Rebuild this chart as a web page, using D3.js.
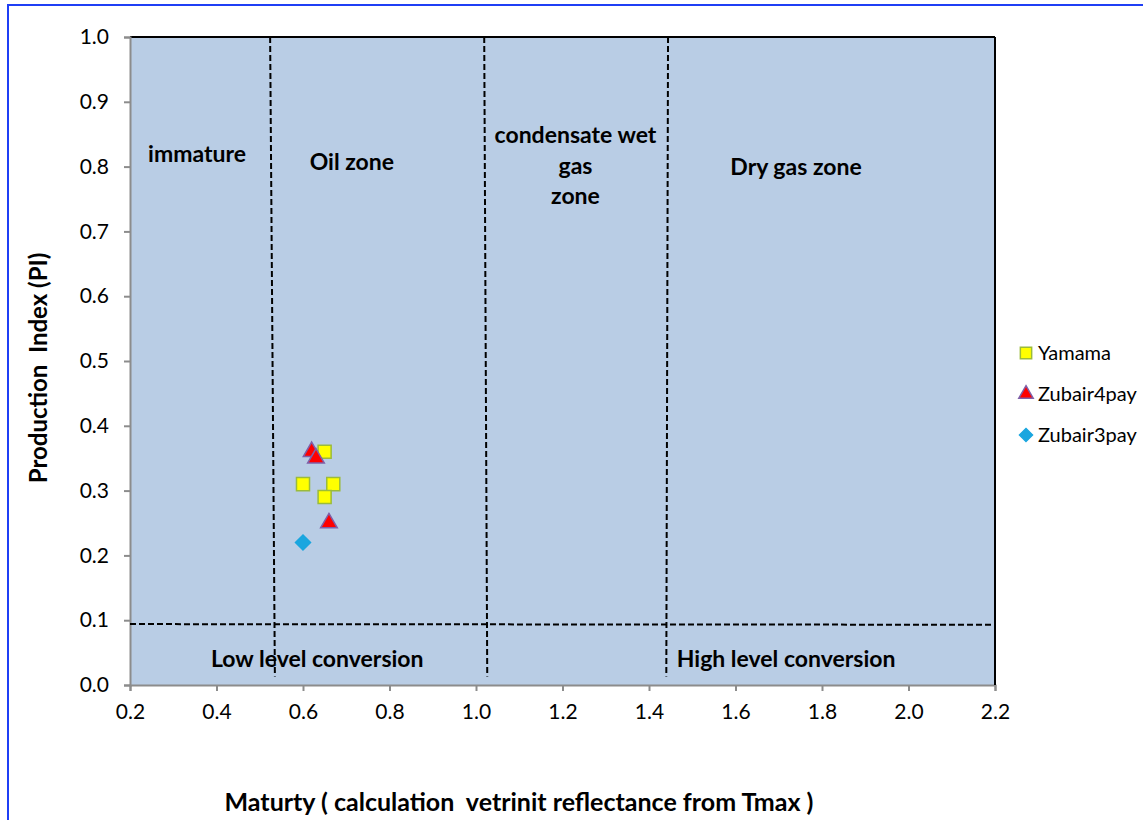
<!DOCTYPE html>
<html>
<head>
<meta charset="utf-8">
<script src="https://cdn.jsdelivr.net/npm/d3@7"></script>
<style>
  body { margin: 0; background: #fff; }
  svg text { font-family: Lato, "Open Sans", sans-serif; fill: #000; white-space: pre; }
</style>
</head>
<body>
<svg id="chart" width="1143" height="820"></svg>
<script>
// data
const yamamaX = [0.65, 0.60, 0.67, 0.65]
const yamamaY = [0.36, 0.31, 0.31, 0.29]
const zubair4X = [0.62, 0.63, 0.66]
const zubair4Y = [0.36, 0.35, 0.25]
const zubair3X = [0.60]
const zubair3Y = [0.22]

const xTicks = [0.2, 0.4, 0.6, 0.8, 1.0, 1.2, 1.4, 1.6, 1.8, 2.0, 2.2]
const yTicks = [0.0, 0.1, 0.2, 0.3, 0.4, 0.5, 0.6, 0.7, 0.8, 0.9, 1.0]

// zone boundaries (slightly slanted, as drawn in the original)
const vLines = [
    {x1: 0.524, y1: 1.0, x2: 0.535, y2: 0.013},
    {x1: 1.019, y1: 1.0, x2: 1.026, y2: 0.013},
    {x1: 1.444, y1: 1.0, x2: 1.440, y2: 0.013}
]
const hLine = {x1: 0.2, y1: 0.094, x2: 2.2, y2: 0.093}

const zoneLabels = [
    {x: 0.355, y: 0.807, lines: ["immature"]},
    {x: 0.713, y: 0.795, lines: ["Oil zone"]},
    {x: 1.23, y: 0.836, lines: ["condensate wet", "gas", "zone"]},
    {x: 1.74, y: 0.787, lines: ["Dry gas zone"]},
    {x: 0.633, y: 0.028, lines: ["Low level conversion"]},
    {x: 1.717, y: 0.028, lines: ["High level conversion"]}
]

const legendNames = ["Yamama", "Zubair4pay", "Zubair3pay"]

const margin = {top: 37, right: 148, bottom: 135, left: 130}
const width = 1143, height = 820

const svg = d3.select("#chart")

// outer blue frame
svg.append("rect")
    .attr("x", 8).attr("y", 5)
    .attr("width", 1160).attr("height", 840)
    .attr("fill", "none")
    .attr("stroke", "#1f3ff5")
    .attr("stroke-width", 2)

const x = d3.scaleLinear().domain([0.2, 2.2]).range([margin.left, width - margin.right])
const y = d3.scaleLinear().domain([0, 1]).range([height - margin.bottom, margin.top])

// plot area
svg.append("rect")
    .attr("x", x(0.2)).attr("y", y(1))
    .attr("width", x(2.2) - x(0.2)).attr("height", y(0) - y(1))
    .attr("fill", "#b9cde5")

// top border in black
svg.append("path")
    .attr("d", `M${x(0.2)},${y(1)}H${x(2.2)}`)
    .attr("fill", "none").attr("stroke", "#000").attr("stroke-width", 2)

const xAxis = svg.append("g")
    .attr("transform", `translate(0,${y(0)})`)
    .call(d3.axisBottom(x).tickValues(xTicks).tickFormat(d3.format(".1f")).tickSizeOuter(0).tickSize(6).tickPadding(13))
const yAxis = svg.append("g")
    .attr("transform", `translate(${x(0.2)},0)`)
    .call(d3.axisLeft(y).tickValues(yTicks).tickFormat(d3.format(".1f")).tickSizeOuter(0).tickSize(6).tickPadding(15))

for (const g of [xAxis, yAxis]) {
    g.selectAll(".domain, line").attr("stroke", "#8c8c8c").attr("stroke-width", 2)
    g.selectAll("text").attr("font-size", 21).attr("fill", "#1a1a1a")
}
// right border over the x-axis end
svg.append("line")
    .attr("x1", x(2.2)).attr("x2", x(2.2)).attr("y1", y(1)).attr("y2", y(0))
    .attr("stroke", "#000").attr("stroke-width", 2)

// dashed zone lines
const dashed = svg.append("g")
    .attr("stroke", "#000").attr("stroke-width", 2)
    .attr("stroke-dasharray", "6,3").attr("fill", "none")
dashed.selectAll("line.v").data(vLines).join("line")
    .attr("class", "v")
    .attr("x1", d => x(d.x1)).attr("y1", d => y(d.y1))
    .attr("x2", d => x(d.x2)).attr("y2", d => y(d.y2))
dashed.append("line")
    .attr("x1", x(hLine.x1)).attr("y1", y(hLine.y1))
    .attr("x2", x(hLine.x2)).attr("y2", y(hLine.y2))

// zone labels
svg.append("g").selectAll("text").data(zoneLabels).join("text")
    .attr("x", d => x(d.x)).attr("y", d => y(d.y))
    .attr("text-anchor", "middle")
    .attr("font-size", 23).attr("font-weight", "bold")
    .selectAll("tspan").data(d => d.lines.map(l => ({l, x: d.x}))).join("tspan")
        .attr("x", d => x(d.x))
        .attr("dy", (d, i) => i === 0 ? 0 : 30.5)
        .text(d => d.l)

// markers
const sym = (type, size) => d3.symbol().type(type).size(size)
const diamond = {draw(ctx, s) { const r = Math.sqrt(s) / 2 * 1.15; ctx.moveTo(0, -r); ctx.lineTo(r, 0); ctx.lineTo(0, r); ctx.lineTo(-r, 0); ctx.closePath() }}

const series = [
    {xs: yamamaX, ys: yamamaY, type: d3.symbolSquare, size: 170, fill: "#ffff00", stroke: "#9bbb3b"},
    {xs: zubair4X, ys: zubair4Y, type: d3.symbolTriangle, size: 120, fill: "#ff0000", stroke: "#7f5fa8"},
    {xs: zubair3X, ys: zubair3Y, type: diamond, size: 170, fill: "#1aa6df", stroke: "#1aa6df"}
]

series.forEach(s => {
    svg.append("g").selectAll("path").data(s.xs.map((v, i) => [v, s.ys[i]])).join("path")
        .attr("transform", d => `translate(${x(d[0])},${y(d[1])})`)
        .attr("d", sym(s.type, s.size))
        .attr("fill", s.fill).attr("stroke", s.stroke).attr("stroke-width", 1.5)
})

// legend
const legend = svg.append("g").attr("transform", "translate(1026,353)")
legendNames.forEach((name, i) => {
    const s = series[i]
    const g = legend.append("g").attr("transform", `translate(0,${i * 41})`)
    g.append("path")
        .attr("d", sym(s.type, s.size * 0.75))
        .attr("fill", s.fill).attr("stroke", s.stroke).attr("stroke-width", 1.5)
    g.append("text")
        .attr("x", 12).attr("y", 7)
        .attr("font-size", 20).attr("fill", "#1a1a1a")
        .text(name)
})

// axis titles
svg.append("text")
    .attr("x", 519).attr("y", 811)
    .attr("text-anchor", "middle")
    .attr("font-size", 25).attr("font-weight", "bold")
    .text("Maturty ( calculation  vetrinit reflectance from Tmax )")
svg.append("text")
    .attr("transform", `translate(47,${(y(0) + y(1)) / 2 + 7}) rotate(-90)`)
    .attr("text-anchor", "middle")
    .attr("font-size", 24).attr("font-weight", "bold")
    .text("Production  Index (PI)")
</script>
</body>
</html>
